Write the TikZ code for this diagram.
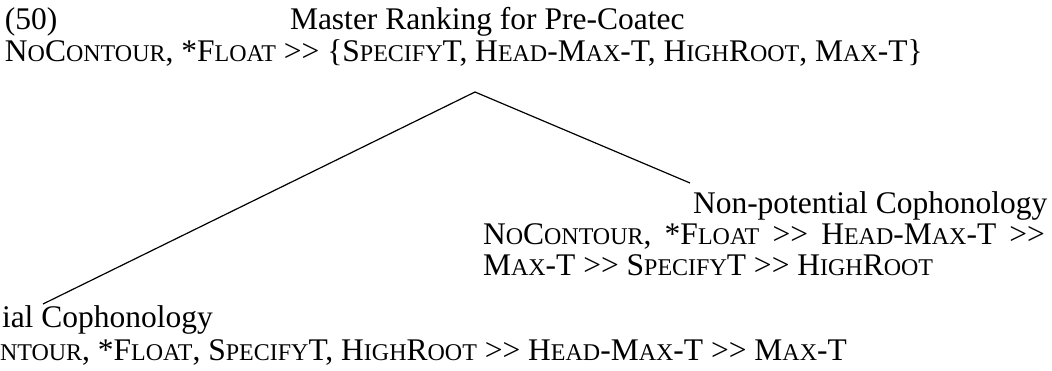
\documentclass[tikz,border=0pt]{standalone}
\usepackage{fontspec}
\setmainfont{Liberation Serif}
% reduced capitals for the constraint names
\newcommand\smc[1]{{\fontsize{24}{36}\selectfont #1}}
% ranking sign, kept as two separate characters
\newcommand\dom{{>}{>}}
\tikzset{
  txt/.style={inner sep=0pt, outer sep=0pt, anchor=base west, font=\fontsize{31.5}{36}\selectfont},
  branch/.style={line width=1.2pt, black}
}
\begin{document}
\begin{tikzpicture}[x=1pt, y=-1pt]
\useasboundingbox (0,0) rectangle (1052,371);
\clip (0,0) rectangle (1052,371);
% top: example number and master ranking
\node[txt] (num) at (5,30) {(50)};
\node[txt] (title) at (290,30) {Master Ranking for Pre-Coatec};
\node[txt] (master) at (5,62) {N\smc{O}C\smc{ONTOUR}, *F\smc{LOAT} \dom{} \{S\smc{PECIFY}T, H\smc{EAD}-M\smc{AX}-T, H\smc{IGH}R\smc{OOT}, M\smc{AX}-T\}};
% right daughter (first ranking line set justified)
\node[txt] (nptitle) at (693,214) {Non-potential Cophonology};
\node[txt] (npone) at (483,245) {\makebox[562pt][s]{N\smc{O}C\smc{ONTOUR}, *F\smc{LOAT} \dom{} H\smc{EAD}-M\smc{AX}-T \dom}};
\node[txt] (nptwo) at (483,276) {M\smc{AX}-T \dom{} S\smc{PECIFY}T \dom{} H\smc{IGH}R\smc{OOT}};
% left daughter
\node[txt] (ptitle) at (2,327) {ial Cophonology};
\node[txt] (pone) at (0,360) {\smc{NTOUR}, *F\smc{LOAT}, S\smc{PECIFY}T, H\smc{IGH}R\smc{OOT} \dom{} H\smc{EAD}-M\smc{AX}-T \dom{} M\smc{AX}-T};
% branches
\coordinate (apex) at (475,92);
\coordinate (rend) at (690,183);
\coordinate (lend) at (43,304);
\draw[branch] (lend) -- (apex) -- (rend);
\end{tikzpicture}
\end{document}
